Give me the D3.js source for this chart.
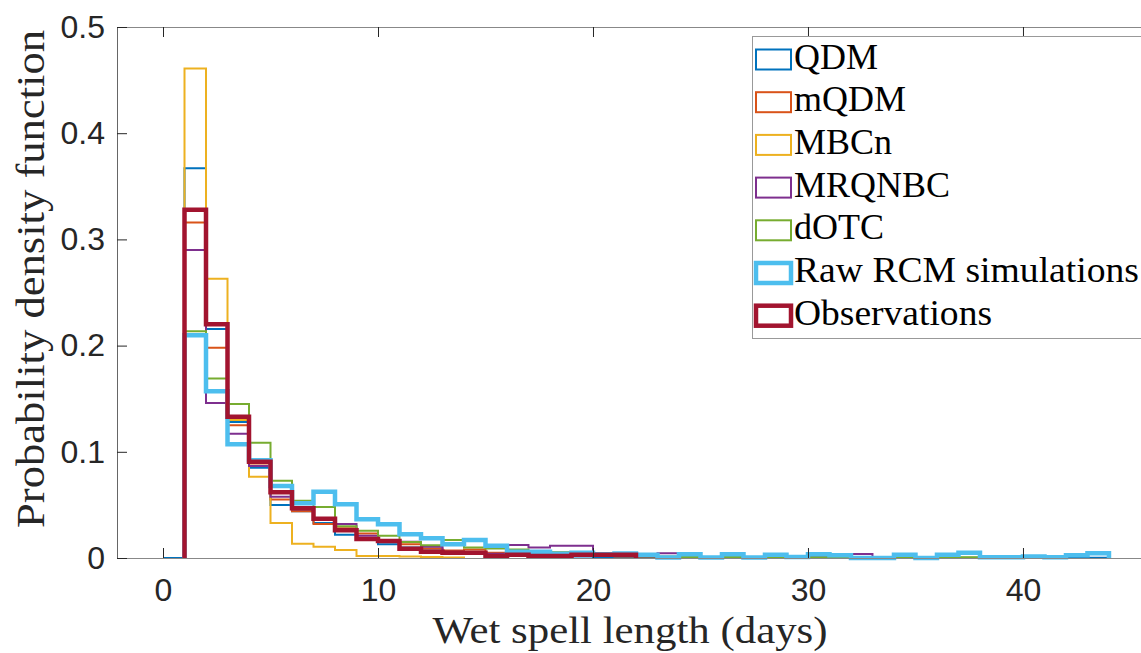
<!DOCTYPE html>
<html>
<head>
<meta charset="utf-8">
<script src="https://cdn.jsdelivr.net/npm/d3@7"></script>
<style>
  body { margin: 0; background: #fff; }
  svg { display: block; }
  .serif { font-family: "Liberation Serif", "Times New Roman", Times, "DejaVu Serif", "Noto Serif", serif; }
  .sans { font-family: "Liberation Sans", Arial, Helvetica, sans-serif; }
</style>
</head>
<body>
<div id="chart"></div>
<script>
// series names, drawing order (last on top)
const seriesNames = ["QDM", "mQDM", "MBCn", "MRQNBC", "dOTC", "Raw RCM simulations", "Observations"];
const seriesColors = ["#0072BD", "#D95319", "#EDB120", "#7E2F8E", "#77AC30", "#4DBEEE", "#A2142F"];
const seriesWidths = [2, 2, 2, 2, 2, 4.5, 4.5];
// first bin edge of each series (bins are 1 day wide)
const firstEdge = [0, 1, 1, 1, 1, 1, 1];

// pdf values per bin
const qdm = [0, 0.367, 0.2156, 0.128, 0.085, 0.050, 0.044, 0.033, 0.022, 0.018, 0.013, 0.010, 0.007, 0.005, 0.004, 0.003,
  0.002, 0.002, 0.0015, 0.0015, 0.001, 0.001, 0.001, 0.0008, 0.0008, 0.0006, 0.0006, 0.0005, 0.0005, 0.0005,
  0.0004, 0.0004, 0.0004, 0.0003, 0.0003, 0.0003, 0.0003, 0.0002, 0.0002, 0.0002, 0.0002, 0.0002, 0.0002, 0.0002];
const mqdm = [0.316, 0.198, 0.125, 0.087, 0.055, 0.044, 0.032, 0.028, 0.023, 0.016, 0.0129, 0.009, 0.007, 0.008, 0.005,
  0.004, 0.003, 0.005, 0.003, 0.002, 0.0015, 0.001, 0.001, 0.001, 0.0008, 0.0006, 0.0005, 0.0005, 0.0004, 0.0004];
const mbcn = [0.461, 0.263, 0.130, 0.0766, 0.033, 0.0135, 0.0107, 0.0075, 0.002, 0.002, 0.0013, 0.001, 0.0005];
const mrqnbc = [0.290, 0.146, 0.117, 0.0866, 0.0577, 0.046, 0.037, 0.032, 0.021, 0.016, 0.0153, 0.0107, 0.006, 0.005,
  0.004, 0.0122, 0.010, 0.0116, 0.0116, 0.002, 0.002, 0.001, 0.0045, 0.001, 0.001, 0.001, 0.001, 0.003, 0.001,
  0.001, 0.001, 0.0038];
const dotc = [0.2135, 0.169, 0.145, 0.1086, 0.0728, 0.054, 0.048, 0.030, 0.0257, 0.021, 0.015, 0.012, 0.017, 0.010,
  0.009, 0.008, 0.006, 0.0053, 0.004, 0.002, 0.002, 0.0015, 0.0015, 0.001, 0.001, 0.001, 0.001, 0.001, 0.001,
  0.0008, 0.0008, 0.0008, 0.0006, 0.0006, 0.0006, 0.0006, 0.0006];
const rawRcm = [0.2097, 0.157, 0.107, 0.092, 0.0678, 0.0515, 0.0625, 0.0505, 0.0364, 0.0317, 0.0223, 0.0185, 0.013,
  0.017, 0.0116, 0.006, 0.006, 0.004, 0.005, 0.0036, 0.0042, 0.003, 0.0005, 0.0035, 0.0005, 0.0035, 0.0005, 0.003,
  0.001, 0.0035, 0.0025, 0, 0, 0.003, 0, 0.003, 0.005, 0.0006, 0.0006, 0.0015, 0.0006, 0.0025, 0.0045];
const observations = [0.328, 0.220, 0.133, 0.0907, 0.062, 0.0468, 0.037, 0.0262, 0.018, 0.016, 0.0088, 0.006, 0.005,
  0.005, 0.002, 0.003, 0.002, 0.002, 0.003, 0.003, 0.003];

const seriesValues = [qdm, mqdm, mbcn, mrqnbc, dotc, rawRcm, observations];

const xTicks = [0, 10, 20, 30, 40];
const yTicks = [0, 0.1, 0.2, 0.3, 0.4, 0.5];

const W = 1141, H = 653;
const margin = { left: 117, top: 27, bottom: 558, right: 1161 };

const svg = d3.select("#chart")
  .append("svg")
    .attr("width", W)
    .attr("height", H);

const x = d3.scaleLinear()
  .domain([-2.14, 46.42])
  .range([margin.left, margin.right]);
const y = d3.scaleLinear()
  .domain([0, 0.5])
  .range([margin.bottom, margin.top]);

// stairs outline like matlab histogram DisplayStyle stairs
function stairPoints(vals, e0) {
  const pts = [[e0, 0]];
  vals.forEach((v, i) => {
    pts.push([e0 + i, v]);
    pts.push([e0 + i + 1, v]);
  });
  pts.push([e0 + vals.length, 0]);
  return pts;
}

const line = d3.line()
  .x(d => x(d[0]))
  .y(d => y(d[1]));

const plot = svg.append("g");
seriesValues.forEach((vals, i) => {
  plot.append("path")
    .attr("d", line(stairPoints(vals, firstEdge[i])))
    .attr("fill", "none")
    .attr("stroke", seriesColors[i])
    .attr("stroke-width", seriesWidths[i])
    .attr("stroke-linejoin", "miter");
});

// axes box
const axisColor = "#262626";
svg.append("g")
  .attr("transform", `translate(0,${margin.bottom})`)
  .call(d3.axisBottom(x).tickValues(xTicks).tickSizeInner(-10).tickSizeOuter(0).tickPadding(20).tickFormat(d3.format("d")))
  .call(g => g.select(".domain").attr("stroke", "#888").attr("stroke-width", 1.2))
  .call(g => g.selectAll(".tick line").attr("stroke", axisColor))
  .call(g => g.selectAll(".tick text")
    .attr("class", "sans")
    .attr("fill", axisColor)
    .style("font-size", "32px"));

svg.append("g")
  .attr("transform", `translate(0,${margin.top})`)
  .call(d3.axisTop(x).tickValues(xTicks).tickSizeInner(-10).tickSizeOuter(0).tickFormat(""))
  .call(g => g.select(".domain").attr("stroke", "#888").attr("stroke-width", 1.2))
  .call(g => g.selectAll(".tick line").attr("stroke", axisColor));

svg.append("g")
  .attr("transform", `translate(${margin.left},0)`)
  .call(d3.axisLeft(y).tickValues(yTicks).tickSizeInner(-10).tickSizeOuter(0).tickPadding(12)
    .tickFormat(d => d === 0 ? "0" : d3.format(".1f")(d)))
  .call(g => g.select(".domain").attr("stroke", "#666").attr("stroke-width", 1))
  .call(g => g.selectAll(".tick line").attr("stroke", axisColor))
  .call(g => g.selectAll(".tick text")
    .attr("class", "sans")
    .attr("fill", axisColor)
    .style("font-size", "32px"));

// axis labels
svg.append("text")
  .attr("class", "serif")
  .attr("x", 630)
  .attr("y", 643)
  .attr("text-anchor", "middle")
  .attr("textLength", 395)
  .attr("lengthAdjust", "spacingAndGlyphs")
  .style("font-size", "38px")
  .attr("fill", "#262626")
  .text("Wet spell length (days)");

svg.append("text")
  .attr("class", "serif")
  .attr("transform", "translate(44,279) rotate(-90)")
  .attr("text-anchor", "middle")
  .attr("textLength", 498)
  .attr("lengthAdjust", "spacingAndGlyphs")
  .style("font-size", "40px")
  .attr("fill", "#262626")
  .text("Probability density function");

// legend
const legend = svg.append("g");
legend.append("rect")
  .attr("x", 752.5)
  .attr("y", 36.5)
  .attr("width", 420)
  .attr("height", 302)
  .attr("fill", "#fff")
  .attr("stroke", "#999")
  .attr("stroke-width", 1);

const rowY = d3.scaleLinear().domain([0, 1]).range([59.5, 102.2]);
const legendWidths = [null, null, null, null, null, 345, 198];
seriesNames.forEach((name, i) => {
  const cy = rowY(i);
  legend.append("rect")
    .attr("x", 756)
    .attr("y", cy - 10)
    .attr("width", 35)
    .attr("height", 20)
    .attr("fill", "#fff")
    .attr("stroke", seriesColors[i])
    .attr("stroke-width", seriesWidths[i]);
  const t = legend.append("text")
    .attr("class", "serif")
    .attr("x", 794)
    .attr("y", cy + 9)
    .style("font-size", "36px")
    .attr("fill", "#000")
    .text(name);
  if (legendWidths[i]) {
    t.attr("textLength", legendWidths[i]).attr("lengthAdjust", "spacingAndGlyphs");
  }
});
</script>
</body>
</html>
